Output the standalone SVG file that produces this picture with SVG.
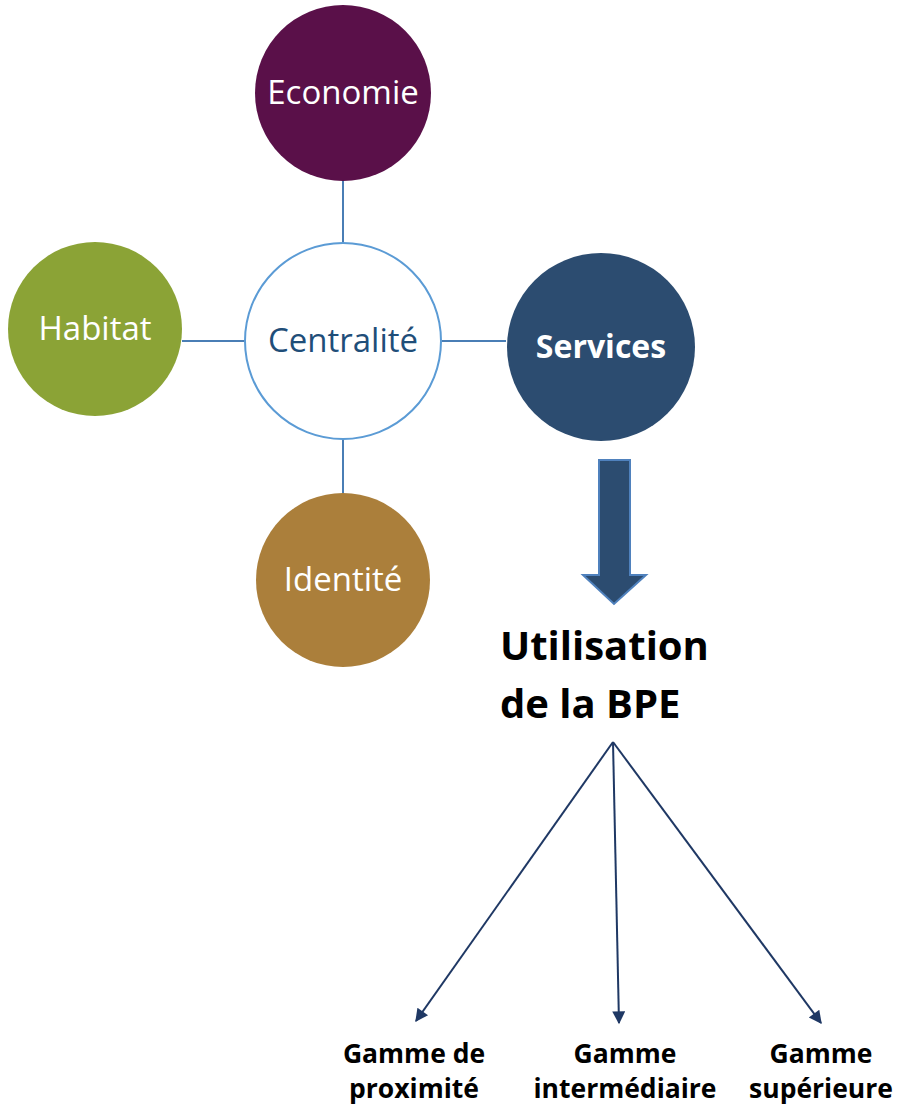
<svg xmlns="http://www.w3.org/2000/svg" width="899" height="1108" viewBox="0 0 899 1108">
<style>
.lbl{font-family:"Open Sans","Noto Sans","DejaVu Sans",sans-serif;font-size:33px;text-anchor:middle;fill:#fff}
.b{font-weight:bold;font-size:32px}
.big{font-family:"Open Sans","Noto Sans","DejaVu Sans",sans-serif;font-size:40px;font-weight:bold;fill:#000}
.small{font-family:"Open Sans","Noto Sans","DejaVu Sans",sans-serif;font-size:26.5px;font-weight:bold;fill:#000;text-anchor:middle}
.link{stroke:#4A7EB5;stroke-width:2;fill:none}
.tree{stroke:#1F3864;stroke-width:2;fill:none;marker-end:url(#ah)}
</style>
<defs>
<marker id="ah" viewBox="0 0 10 10" refX="9" refY="5" markerWidth="15" markerHeight="13" markerUnits="userSpaceOnUse" orient="auto">
<path d="M0,0 L10,5 L0,10 z" fill="#1F3864"/>
</marker>
</defs>
<g id="connectors">
<line class="link" x1="343" y1="181" x2="343" y2="242"/>
<line class="link" x1="343" y1="440" x2="343" y2="493"/>
<line class="link" x1="182" y1="341" x2="244" y2="341"/>
<line class="link" x1="442" y1="341" x2="506" y2="341"/>
<path d="M599,460 L630,460 L630,575 L646,575 L614,604 L583,575 L599,575 Z" fill="#2C4C70" stroke="#4F81BD" stroke-width="2"/>
<path d="M613,742 L416,1021" class="tree"/>
<path d="M613,742 L619,1023" class="tree"/>
<path d="M613,742 L821,1023" class="tree"/>
</g>
<g id="economie">
<circle cx="343" cy="93" r="88" fill="#5A1049"/>
<text class="lbl" x="343" y="104">Economie</text>
</g>
<g id="habitat">
<circle cx="95" cy="329" r="87" fill="#8BA336"/>
<text class="lbl" x="95" y="340">Habitat</text>
</g>
<g id="centralite">
<circle cx="343" cy="341" r="98" fill="#fff" stroke="#5B9BD5" stroke-width="2"/>
<text class="lbl" x="343" y="352" style="fill:#1F4E79">Centralité</text>
</g>
<g id="services">
<circle cx="601" cy="347" r="94" fill="#2C4C70"/>
<text class="lbl b" x="601" y="358">Services</text>
</g>
<g id="identite">
<circle cx="343" cy="580" r="87" fill="#AB7F3B"/>
<text class="lbl" x="343" y="591">Identité</text>
</g>
<g id="bpe">
<text class="big" x="500" y="660">Utilisation</text>
<text class="big" x="500" y="718">de la BPE</text>
</g>
<g id="proximite">
<text class="small" x="414" y="1063">Gamme de</text>
<text class="small" x="414" y="1098">proximité</text>
</g>
<g id="intermediaire">
<text class="small" x="625" y="1063">Gamme</text>
<text class="small" x="625" y="1098">intermédiaire</text>
</g>
<g id="superieure">
<text class="small" x="821" y="1063">Gamme</text>
<text class="small" x="821" y="1098">supérieure</text>
</g>
</svg>
